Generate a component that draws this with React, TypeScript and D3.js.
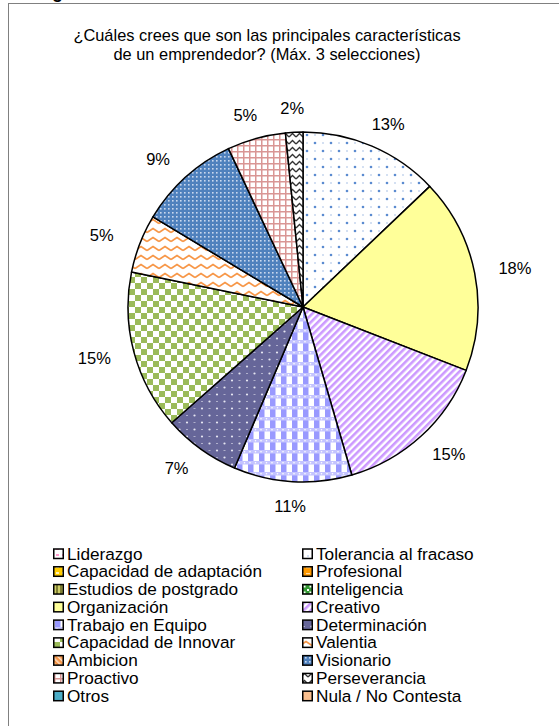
import React, { useEffect } from 'react';
import * as d3 from 'd3';

const titleLines = [
  '¿Cuáles crees que son las principales características',
  'de un emprendedor? (Máx. 3 selecciones)',
];

const categories = [
  'Liderazgo', 'Tolerancia al fracaso', 'Capacidad de adaptación', 'Profesional',
  'Estudios de postgrado', 'Inteligencia', 'Organización', 'Creativo',
  'Trabajo en Equipo', 'Determinación', 'Capacidad de Innovar', 'Valentia',
  'Ambicion', 'Visionario', 'Proactivo', 'Perseverancia', 'Otros', 'Nula / No Contesta',
];

const values = [0, 12.9, 0, 0, 0, 0, 18.0, 14.6, 10.9, 7.1, 14.7, 5.4, 0, 9.4, 5.4, 1.6, 0, 0];

const fills = [
  'url(#pLider)', 'url(#pToler)', 'url(#pAdapt)', 'url(#pProf)', 'url(#pEstud)', 'url(#pIntel)',
  '#ffff99', 'url(#pCrea)', 'url(#pTrab)', 'url(#pDeter)', 'url(#pInnov)', 'url(#pValen)',
  'url(#pAmbi)', 'url(#pVision)', 'url(#pProac)', 'url(#pPerse)', '#4bacc6', '#fabf8f',
];

const W = 559;
const H = 726;
const FONT = 'Arial, "Liberation Sans", sans-serif';

export default function App() {
  useEffect(() => {
    document.body.style.margin = '0';
  }, []);

  const cx = 303;
  const cy = 307;
  const r = 175;

  const data = categories.map((c, i) => ({ name: c, value: values[i], fill: fills[i] }));
  const total = d3.sum(values);
  const pie = d3.pie<typeof data[0]>().sort(null).value(d => d.value).startAngle(0).endAngle(2 * Math.PI);
  const arcs = pie(data).filter(a => a.data.value > 0);
  const arcGen = d3.arc<d3.PieArcDatum<typeof data[0]>>().innerRadius(0).outerRadius(r);

  // excel-ish label placement: box just outside the rim
  const labelPos = (a: d3.PieArcDatum<typeof data[0]>) => {
    const ang = (a.startAngle + a.endAngle) / 2;
    const s = Math.sin(ang);
    const c = -Math.cos(ang);
    const d = r + 16;
    return [cx + d * s + 25 * s, cy + d * c + 8 * c];
  };

  const legendRows = d3.range(Math.ceil(categories.length / 2));
  const legendY = d3.scaleLinear().domain([0, 8]).range([553.5, 695.7]);
  const legendX = [53, 302];

  return (
    <svg width={W} height={H} style={{ display: 'block', background: '#fff' }}>
      <defs>
        <pattern id="pToler" width="16" height="16" patternUnits="userSpaceOnUse">
          <rect width="16" height="16" fill="#fff" />
          <circle cx="4" cy="4" r="1.3" fill="#5b8bd0" />
          <rect x="11" y="3.5" width="2" height="1" fill="#a9c2e6" />
          <circle cx="12" cy="12" r="1.3" fill="#5b8bd0" />
          <rect x="3" y="11.5" width="2" height="1" fill="#a9c2e6" />
        </pattern>
        <pattern id="pCrea" width="5" height="5" patternUnits="userSpaceOnUse" patternTransform="rotate(45)">
          <rect width="5" height="5" fill="#fff" />
          <rect width="2.6" height="5" fill="#cc99ff" />
        </pattern>
        <pattern id="pTrab" width="11" height="11" patternUnits="userSpaceOnUse">
          <rect width="11" height="11" fill="#fff" />
          <rect width="5.5" height="11" fill="#9999ff" />
          <rect y="0" width="11" height="3.5" fill="#c4c4ff" />
          <circle cx="2" cy="1.8" r="0.8" fill="#fff" />
          <circle cx="7.5" cy="1.8" r="0.8" fill="#fff" />
        </pattern>
        <pattern id="pDeter" width="15" height="14" patternUnits="userSpaceOnUse">
          <rect width="15" height="14" fill="#666699" />
          <circle cx="4" cy="3.5" r="1.1" fill="#e6e6f2" />
          <rect x="10.5" y="3" width="2" height="1" fill="#b0b0cc" />
          <circle cx="11.5" cy="10.5" r="1.1" fill="#e6e6f2" />
          <rect x="3" y="10" width="2" height="1" fill="#b0b0cc" />
        </pattern>
        <pattern id="pInnov" width="12" height="12" patternUnits="userSpaceOnUse">
          <rect width="12" height="12" fill="#fff" />
          <rect width="6" height="6" fill="#9bbb59" />
          <rect x="6" y="6" width="6" height="6" fill="#9bbb59" />
        </pattern>
        <pattern id="pValen" width="12" height="9" patternUnits="userSpaceOnUse">
          <rect width="12" height="9" fill="#fff" />
          <path d="M0,6.5 L6,2.5 L12,6.5" fill="none" stroke="#f79646" strokeWidth="1.6" />
        </pattern>
        <pattern id="pVision" width="4" height="4" patternUnits="userSpaceOnUse">
          <rect width="4" height="4" fill="#4f81bd" />
          <rect x="1" y="1" width="1.6" height="1.6" fill="#c9d8ee" />
        </pattern>
        <pattern id="pProac" width="6" height="6" patternUnits="userSpaceOnUse">
          <rect width="6" height="6" fill="#fff" />
          <rect width="6" height="1.5" fill="#d99694" />
          <rect width="1.5" height="6" fill="#d99694" />
        </pattern>
        <pattern id="pPerse" width="7" height="7" patternUnits="userSpaceOnUse">
          <rect width="7" height="7" fill="#fff" />
          <path d="M0,5 L3.5,1.5 L7,5" fill="none" stroke="#333" strokeWidth="1.4" />
        </pattern>
        <pattern id="pLider" width="6" height="6" patternUnits="userSpaceOnUse">
          <rect width="6" height="6" fill="#fff" />
          <rect x="2" y="2" width="3" height="2" fill="#ff99cc" />
        </pattern>
        <pattern id="pAdapt" width="6" height="6" patternUnits="userSpaceOnUse">
          <rect width="6" height="6" fill="#ffcc00" />
          <rect x="2" y="2" width="3" height="2" fill="#fff2b3" />
        </pattern>
        <pattern id="pProf" width="6" height="6" patternUnits="userSpaceOnUse">
          <rect width="6" height="6" fill="#ff9900" />
          <rect x="0" y="3" width="4" height="1.2" fill="#ffd9a0" />
        </pattern>
        <pattern id="pEstud" width="4" height="4" patternUnits="userSpaceOnUse">
          <rect width="4" height="4" fill="#cccc66" />
          <rect width="2" height="4" fill="#808033" />
        </pattern>
        <pattern id="pIntel" width="6" height="6" patternUnits="userSpaceOnUse">
          <rect width="6" height="6" fill="#339933" />
          <rect x="1" y="1" width="2" height="2" fill="#fff" />
          <rect x="3.5" y="3.5" width="2" height="2" fill="#fff" />
        </pattern>
        <pattern id="pAmbi" width="4" height="4" patternUnits="userSpaceOnUse" patternTransform="rotate(-45)">
          <rect width="4" height="4" fill="#f79646" />
          <rect width="1.5" height="4" fill="#fde0c8" />
        </pattern>
      </defs>

      {/* frame of the chart area */}
      <text x={52} y={-2} fontFamily={FONT} fontWeight="bold" fontSize={18} fill="#000">g</text>
      <rect x={8.5} y={3.5} width={W + 20} height={H + 20} fill="none" stroke="#808080" strokeWidth={1} />

      {titleLines.map((t, i) => (
        <text key={i} x={267} y={41 + i * 18.5} textAnchor="middle" fontFamily={FONT} fontSize={16.4} fill="#000">
          {t}
        </text>
      ))}

      <g>
        {arcs.map((a, i) => (
          <path
            key={i}
            d={arcGen(a) || ''}
            transform={`translate(${cx},${cy})`}
            fill={a.data.fill}
            stroke="#000"
            strokeWidth={1.5}
            strokeLinejoin="round"
          />
        ))}
      </g>

      {arcs.map((a, i) => {
        const [x, y] = labelPos(a);
        return (
          <text key={i} x={x} y={y} textAnchor="middle" dominantBaseline="central" fontFamily={FONT} fontSize={16.5} fill="#000">
            {`${Math.round((a.data.value / total) * 100)}%`}
          </text>
        );
      })}

      {legendRows.map(row =>
        [0, 1].map(col => {
          const idx = row * 2 + col;
          if (idx >= categories.length) return null;
          const y = legendY(row);
          const x = legendX[col];
          return (
            <g key={idx}>
              <rect x={x + 0.75} y={y - 4.5} width={9.5} height={9.5} fill={fills[idx]} stroke="#000" strokeWidth={1.5} />
              <text x={x + 14} y={y} dominantBaseline="central" fontFamily={FONT} fontSize={17.2} fill="#000">
                {categories[idx]}
              </text>
            </g>
          );
        })
      )}
    </svg>
  );
}
